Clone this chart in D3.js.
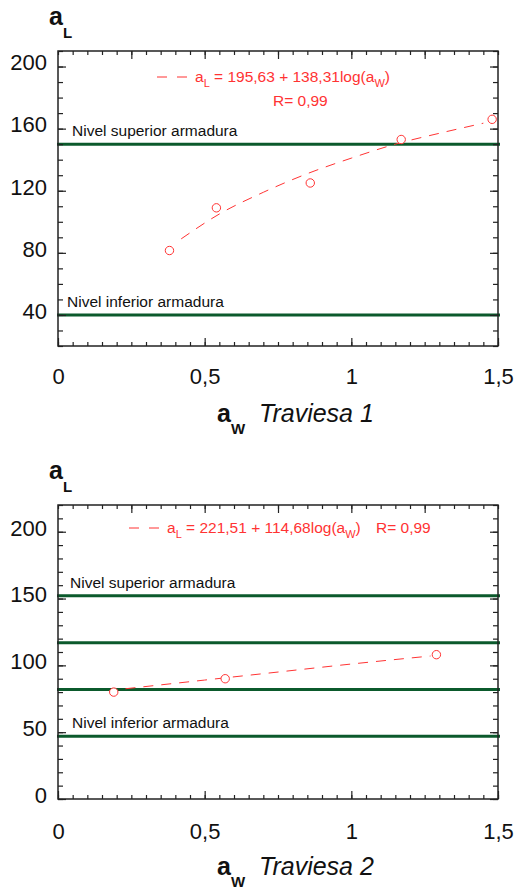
<!DOCTYPE html>
<html>
<head>
<meta charset="utf-8">
<script src="https://cdn.jsdelivr.net/npm/d3@7"></script>
<style>
  body { margin: 0; background: #fff; }
  text { font-family: "Liberation Sans", Arial, sans-serif; }
</style>
</head>
<body>
<div id="chart"></div>
<script>
// shared x axis
var xDomain = [0, 1.5];
var xTickLabels = [0, 0.5, 1, 1.5];

// Traviesa 1
var t1Aw = [0.38, 0.54, 0.86, 1.17, 1.48];
var t1Al = [81.5, 109, 125, 153, 166];
var t1FitAw = [0.42, 0.55, 0.7, 0.85, 1.0, 1.15, 1.3, 1.45];
var t1FitAl = [89, 105, 119, 131, 141, 150, 157, 163.5];
var t1Levels = [150, 40];
var t1LevelLabels = ["Nivel superior armadura", "Nivel inferior armadura"];
var t1YDomain = [20, 210];
var t1YTicks = [40, 80, 120, 160, 200];

// Traviesa 2
var t2Aw = [0.19, 0.57, 1.29];
var t2Al = [80, 90, 108];
var t2FitAw = [0.23, 0.5, 0.75, 1.0, 1.27];
var t2FitAl = [82.5, 89, 95, 101, 107];
var t2Levels = [152, 117, 82, 47];
var t2LevelLabels = ["Nivel superior armadura", "", "", "Nivel inferior armadura"];
var t2YDomain = [0, 220];
var t2YTicks = [0, 50, 100, 150, 200];

var red = "#ff3333";
var green = "#0b5a2c";
var axisColor = "#222";

var svg = d3.select("#chart")
  .append("svg")
  .attr("width", 516)
  .attr("height", 891);

var fmt = function (d) { return String(d).replace(".", ","); };

function drawPanel(opt) {
  var x = d3.scaleLinear().domain(xDomain).range([58, 498]);
  var y = d3.scaleLinear().domain(opt.yDomain).range([opt.bottom, opt.top]);
  var g = svg.append("g");

  var yMinor = d3.range(opt.yDomain[0], opt.yDomain[1] + 0.001, 10);
  var xMinor = d3.range(0, 1.5001, 0.05);

  // horizontal reinforcement levels
  g.selectAll("line.level")
    .data(opt.levels)
    .join("line")
    .attr("class", "level")
    .attr("x1", x(0) - 1)
    .attr("x2", x(1.5) + 2)
    .attr("y1", function (d) { return y(d); })
    .attr("y2", function (d) { return y(d); })
    .attr("stroke", green)
    .attr("stroke-width", 3);

  g.selectAll("text.level")
    .data(opt.levels.map(function (d, i) { return { v: d, t: opt.levelLabels[i], x: opt.labelX[i] }; })
      .filter(function (d) { return d.t; }))
    .join("text")
    .attr("class", "level")
    .attr("x", function (d) { return d.x; })
    .attr("y", function (d) { return y(d.v) - 8; })
    .attr("font-size", 15.5)
    .attr("fill", "#111")
    .text(function (d) { return d.t; });

  // axes, ticks inside
  function styleAxis(sel) {
    sel.select(".domain").remove();
    sel.selectAll("line").attr("stroke", axisColor).attr("stroke-width", 1.2);
    sel.selectAll("text").attr("fill", "#111").attr("font-size", 22)
      .attr("font-family", "Liberation Sans, Arial, sans-serif");
  }

  g.append("g").attr("transform", "translate(58,0)")
    .call(d3.axisLeft(y).tickValues(yMinor).tickSize(-5).tickFormat(""))
    .call(styleAxis);
  g.append("g").attr("transform", "translate(58,0)")
    .call(d3.axisLeft(y).tickValues(opt.yTicks).tickSizeInner(-8).tickSizeOuter(0).tickPadding(11).tickFormat(fmt))
    .call(styleAxis)
    .selectAll("text").attr("dy", "0.15em");

  g.append("g").attr("transform", "translate(498,0)")
    .call(d3.axisRight(y).tickValues(yMinor).tickSize(-5).tickFormat(""))
    .call(styleAxis);
  g.append("g").attr("transform", "translate(498,0)")
    .call(d3.axisRight(y).tickValues(opt.yTicks).tickSize(-8).tickFormat(""))
    .call(styleAxis);

  g.append("g").attr("transform", "translate(0," + opt.top + ")")
    .call(d3.axisTop(x).tickValues(xMinor).tickSize(-4).tickFormat(""))
    .call(styleAxis);
  g.append("g").attr("transform", "translate(0," + opt.top + ")")
    .call(d3.axisTop(x).tickValues([0.25, 0.5, 0.75, 1, 1.25]).tickSize(-8).tickFormat(""))
    .call(styleAxis);

  g.append("g").attr("transform", "translate(0," + opt.bottom + ")")
    .call(d3.axisBottom(x).tickValues(xMinor).tickSize(-4).tickFormat(""))
    .call(styleAxis);
  g.append("g").attr("transform", "translate(0," + opt.bottom + ")")
    .call(d3.axisBottom(x).tickValues(xTickLabels).tickSizeInner(-8).tickSizeOuter(0).tickPadding(opt.xPad).tickFormat(fmt))
    .call(styleAxis);

  // frame
  g.append("rect")
    .attr("x", x(0)).attr("y", opt.top)
    .attr("width", x(1.5) - x(0)).attr("height", opt.bottom - opt.top)
    .attr("fill", "none").attr("stroke", axisColor).attr("stroke-width", 1.5);

  // fitted curve
  var line = d3.line()
    .x(function (d) { return x(d[0]); })
    .y(function (d) { return y(d[1]); })
    .curve(d3.curveMonotoneX);
  g.append("path")
    .datum(opt.fitAw.map(function (d, i) { return [d, opt.fitAl[i]]; }))
    .attr("d", line)
    .attr("fill", "none")
    .attr("stroke", red)
    .attr("stroke-width", 1)
    .attr("stroke-dasharray", "10,8");

  // measured points
  g.selectAll("circle")
    .data(opt.aw.map(function (d, i) { return [d, opt.al[i]]; }))
    .join("circle")
    .attr("cx", function (d) { return x(d[0]); })
    .attr("cy", function (d) { return y(d[1]); })
    .attr("r", 4.2)
    .attr("fill", "#fff")
    .attr("stroke", red)
    .attr("stroke-width", 1);

  // equation legend
  var eq = opt.eq;
  g.append("line")
    .attr("x1", eq.x - 38).attr("x2", eq.x - 8)
    .attr("y1", eq.y - 5).attr("y2", eq.y - 5)
    .attr("stroke", red).attr("stroke-dasharray", "10,10");
  var et = g.append("text").attr("x", eq.x).attr("y", eq.y)
    .attr("font-size", 15.5).attr("fill", red);
  et.append("tspan").text("a");
  et.append("tspan").attr("dy", 5).attr("font-size", 11).text("L");
  et.append("tspan").attr("dy", -5).text(" = " + eq.a + " + " + eq.b + "log(a");
  et.append("tspan").attr("dy", 5).attr("font-size", 11).text("W");
  et.append("tspan").attr("dy", -5).text(")");
  g.append("text").attr("x", eq.rx).attr("y", eq.ry)
    .attr("font-size", 15.5).attr("fill", red)
    .text("R= " + eq.r);

  // axis titles
  var yt = g.append("text").attr("x", 49).attr("y", opt.top - 26)
    .attr("font-weight", "bold").attr("fill", "#111");
  yt.append("tspan").attr("font-size", 25).text("a");
  yt.append("tspan").attr("font-size", 15).attr("dy", 13).text("L");

  var xt = g.append("text").attr("x", 217).attr("y", opt.bottom + opt.titleGap)
    .attr("fill", "#111");
  xt.append("tspan").attr("font-size", 25).attr("font-weight", "bold").text("a");
  xt.append("tspan").attr("font-size", 15).attr("font-weight", "bold").attr("dy", 12).text("W");
  xt.append("tspan").attr("x", 259).attr("dy", -12).attr("font-size", 25)
    .attr("font-style", "italic").text(opt.title);
}

drawPanel({
  top: 51, bottom: 346,
  yDomain: t1YDomain, yTicks: t1YTicks,
  levels: t1Levels, levelLabels: t1LevelLabels, labelX: [72, 67],
  aw: t1Aw, al: t1Al, fitAw: t1FitAw, fitAl: t1FitAl,
  eq: { x: 195, y: 82, a: "195,63", b: "138,31", r: "0,99", rx: 273, ry: 106 },
  xPad: 22, titleGap: 76,
  title: "Traviesa 1"
});

drawPanel({
  top: 505, bottom: 799,
  yDomain: t2YDomain, yTicks: t2YTicks,
  levels: t2Levels, levelLabels: t2LevelLabels, labelX: [70, 72, 72, 72],
  aw: t2Aw, al: t2Al, fitAw: t2FitAw, fitAl: t2FitAl,
  eq: { x: 167, y: 533, a: "221,51", b: "114,68", r: "0,99", rx: 376, ry: 533 },
  xPad: 24, titleGap: 76,
  title: "Traviesa 2"
});
</script>
</body>
</html>
